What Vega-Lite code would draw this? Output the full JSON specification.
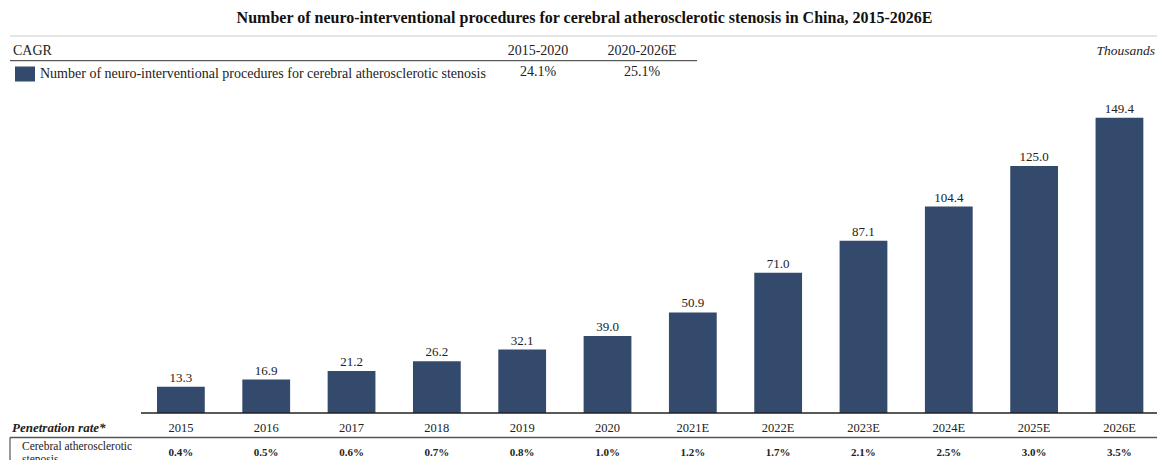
{
  "$schema": "https://vega.github.io/schema/vega-lite/v6.json",
  "width": 1157,
  "height": 430,
  "autosize": {"type": "none"},
  "padding": {"top": 30, "left": 0, "right": 0, "bottom": 0},
  "background": "white",
  "config": {
    "view": {"stroke": null},
    "font": "Liberation Serif",
    "text": {"font": "Liberation Serif", "color": "#222"},
    "title": {"font": "Liberation Serif"},
    "legend": {"labelFont": "Liberation Serif"}
  },
  "title": {
    "text": "Number of neuro-interventional procedures for cerebral atherosclerotic stenosis in China, 2015-2026E",
    "fontSize": 16,
    "fontWeight": "bold",
    "color": "#111",
    "anchor": "middle",
    "frame": "group",
    "dx": 6,
    "offset": 4
  },
  "datasets": {
    "main": [
      {"year": "2015", "value": 13.3, "pen": 0.004},
      {"year": "2016", "value": 16.9, "pen": 0.005},
      {"year": "2017", "value": 21.2, "pen": 0.006},
      {"year": "2018", "value": 26.2, "pen": 0.007},
      {"year": "2019", "value": 32.1, "pen": 0.008},
      {"year": "2020", "value": 39.0, "pen": 0.010},
      {"year": "2021E", "value": 50.9, "pen": 0.012},
      {"year": "2022E", "value": 71.0, "pen": 0.017},
      {"year": "2023E", "value": 87.1, "pen": 0.021},
      {"year": "2024E", "value": 104.4, "pen": 0.025},
      {"year": "2025E", "value": 125.0, "pen": 0.030},
      {"year": "2026E", "value": 149.4, "pen": 0.035}
    ],
    "cagr": [
      {"period": "2015-2020", "rate": 0.241},
      {"period": "2020-2026E", "rate": 0.251}
    ]
  },
  "resolve": {"scale": {"x": "independent"}},
  "layer": [
    {
      "data": {"name": "main"},
      "encoding": {
        "x": {
          "field": "year",
          "type": "nominal",
          "sort": null,
          "axis": null,
          "scale": {"paddingInner": 0.44, "paddingOuter": 1.026, "align": 0.92}
        }
      },
      "layer": [
        {
          "mark": {"type": "bar", "fill": "#334a6c"},
          "encoding": {
            "y": {
              "field": "value",
              "type": "quantitative",
              "axis": null,
              "scale": {"domain": [-23.77, 193.73], "nice": false, "zero": false}
            },
            "color": {
              "datum": "Number of neuro-interventional procedures for cerebral atherosclerotic stenosis",
              "type": "nominal",
              "scale": {"range": ["#334a6c"]},
              "legend": {
                "orient": "none",
                "legendX": 15,
                "legendY": 34,
                "title": null,
                "padding": 0,
                "symbolType": "M-1,-0.75H1V0.75H-1Z",
                "symbolSize": 400,
                "symbolStrokeWidth": 0,
                "labelFontSize": 14,
                "labelColor": "#222",
                "labelOffset": 5,
                "labelLimit": 600
              }
            }
          }
        },
        {
          "mark": {"type": "text", "baseline": "alphabetic", "dy": -5, "fontSize": 13},
          "encoding": {
            "y": {"field": "value", "type": "quantitative"},
            "text": {"field": "value", "type": "quantitative", "format": ".1f"}
          }
        },
        {
          "mark": {"type": "text", "baseline": "middle", "fontSize": 12.5},
          "encoding": {
            "y": {"datum": -7.44},
            "text": {"field": "year", "type": "nominal"}
          }
        },
        {
          "mark": {"type": "text", "baseline": "middle", "fontSize": 11, "fontWeight": "bold"},
          "encoding": {
            "y": {"datum": -20.23},
            "text": {"field": "pen", "type": "quantitative", "format": ".1%"}
          }
        }
      ]
    },
    {
      "data": {"name": "cagr"},
      "encoding": {
        "x": {
          "field": "period",
          "type": "nominal",
          "sort": null,
          "axis": null,
          "scale": {"type": "point", "range": [538, 642], "padding": 0}
        }
      },
      "layer": [
        {
          "mark": {"type": "text", "baseline": "middle", "fontSize": 14},
          "encoding": {
            "y": {"datum": 183.36},
            "text": {"field": "period", "type": "nominal"}
          }
        },
        {
          "mark": {"type": "text", "baseline": "middle", "fontSize": 14},
          "encoding": {
            "y": {"datum": 172.48},
            "text": {"field": "rate", "type": "quantitative", "format": ".1%"}
          }
        }
      ]
    },
    {
      "data": {"values": [{}]},
      "layer": [
        {
          "mark": {"type": "rule", "color": "#dcdcdc", "strokeWidth": 1.5},
          "encoding": {
            "x": {"datum": 10, "type": "quantitative", "axis": null, "scale": {"domain": [0, 1157], "nice": false, "zero": false}},
            "x2": {"datum": 1157},
            "y": {"datum": 190.69}
          }
        },
        {
          "mark": {"type": "rule", "color": "#333", "strokeWidth": 1},
          "encoding": {
            "x": {"datum": 10, "type": "quantitative"},
            "x2": {"datum": 697},
            "y": {"datum": 178.2}
          }
        },
        {
          "mark": {"type": "rule", "color": "#222", "strokeWidth": 1.5},
          "encoding": {
            "x": {"datum": 141, "type": "quantitative"},
            "x2": {"datum": 1157},
            "y": {"datum": 0}
          }
        },
        {
          "mark": {"type": "rule", "color": "#555", "strokeWidth": 1.5},
          "encoding": {
            "x": {"datum": 10, "type": "quantitative"},
            "x2": {"datum": 1157},
            "y": {"datum": -12.39}
          }
        },
        {
          "mark": {"type": "rule", "color": "#555", "strokeWidth": 1.2},
          "encoding": {
            "x": {"datum": 10, "type": "quantitative"},
            "y": {"datum": -12.39},
            "y2": {"datum": -23.77}
          }
        },
        {
          "mark": {"type": "text", "text": "CAGR", "align": "left", "baseline": "middle", "fontSize": 14},
          "encoding": {
            "x": {"datum": 13, "type": "quantitative"},
            "y": {"datum": 183.36}
          }
        },
        {
          "mark": {"type": "text", "text": "Thousands", "align": "right", "baseline": "middle", "fontSize": 13.5, "fontStyle": "italic"},
          "encoding": {
            "x": {"datum": 1155, "type": "quantitative"},
            "y": {"datum": 183.36}
          }
        },
        {
          "mark": {"type": "text", "text": "Penetration rate*", "align": "left", "baseline": "middle", "fontSize": 13, "fontStyle": "italic", "fontWeight": "bold"},
          "encoding": {
            "x": {"datum": 12, "type": "quantitative"},
            "y": {"datum": -7.44}
          }
        },
        {
          "mark": {"type": "text", "text": ["Cerebral atherosclerotic", "stenosis"], "align": "left", "baseline": "alphabetic", "fontSize": 11.5, "lineHeight": 13},
          "encoding": {
            "x": {"datum": 22, "type": "quantitative"},
            "y": {"datum": -18.72}
          }
        }
      ]
    }
  ]
}
